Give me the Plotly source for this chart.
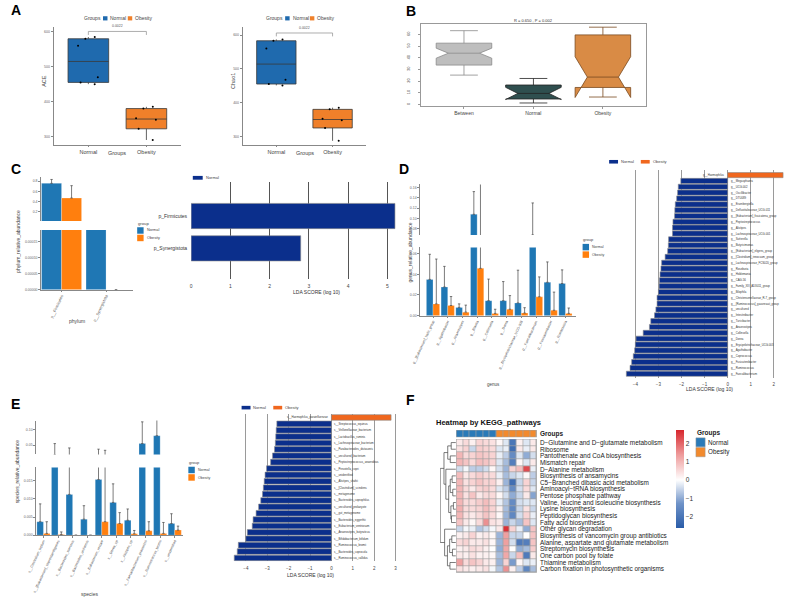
import plotly.graph_objects as go

W, H = 787, 602
FONT = "Liberation Sans, Arial, sans-serif"
BLUE = "#1F77B4"
ORANGE = "#FF7F0E"
BOXBLUE = "#1F6AAE"
BOXORANGE = "#F0802A"
NAVY = "#0B2F8C"
LDAORANGE = "#F0671E"

# ---------------- data ----------------
groups = ["Normal", "Obesity"]
ace_normal = [585, 580, 560, 470, 455, 450]
ace_obesity = [385, 380, 352, 348, 322, 290]
chao1_normal = [587, 583, 560, 468, 455, 451]
chao1_obesity = [385, 380, 352, 348, 325, 287]
alpha_p = "0.0022"

anosim_groups = ["Between", "Normal", "Obesity"]
anosim_lower = [25.1, 1.2, 6.3]
anosim_q1 = [33.7, 4.6, 14.5]
anosim_median = [43.9, 9.4, 23.4]
anosim_q3 = [52.5, 16.6, 59.6]
anosim_upper = [63.2, 22.2, 66.2]
anosim_notch = [4.3, 5.2, 17.5]
anosim_title = "R = 0.650 , P = 0.002"

phyla = ["p__Firmicutes", "p__Synergistota"]
phylum_normal = [0.755, 0.0004]
phylum_obesity = [0.47, 0.0]
phylum_normal_sd = [0.075, 0.0]
phylum_obesity_sd = [0.24, 0.0]

lda_phylum = ["p_Synergistota", "p_Firmicutes"]
lda_phylum_score = [2.79, 5.19]

genera = ["g__[Eubacterium]_hallii_group", "g__Agathobacter", "g__Anaerostipes", "g__Blautia",
          "g__Collinsella", "g__Dorea", "g__Erysipelotrichaceae_UCG-003", "g__Faecalibacterium",
          "g__Fusicatenibacter", "g__Romboutsia"]
genus_normal = [0.0351, 0.0277, 0.008, 0.108, 0.0145, 0.0145, 0.0123, 0.068, 0.0323, 0.0311]
genus_normal_sd = [0.0243, 0.02, 0.0034, 0.044, 0.0209, 0.0185, 0.0317, 0.062, 0.0197, 0.0132]
genus_obesity = [0.0114, 0.0098, 0.0034, 0.0458, 0.0022, 0.0062, 0.0025, 0.0182, 0.0052, 0.0022]
genus_obesity_sd = [0.0434, 0.0087, 0.0068, 0.125, 0.004, 0.0132, 0.0052, 0.0193, 0.0176, 0.0052]

lda_genus = ["g__Haemophilus", "g__Megasphaera", "g__UCG-002", "g__Oscillibacter", "g__DTU089",
             "g__Eisenbergiella", "g__Defluviitaleaceae_UCG-011", "g__[Eubacterium]_fissicatena_group",
             "g__Peptostreptococcus", "g__Alistipes", "g__Lachnospiraceae_UCG-001", "g__Sutterella",
             "g__Butyricimonas", "g__[Eubacterium]_eligens_group", "g__[Clostridium]_innocuum_group",
             "g__Lachnospiraceae_FCS020_group", "g__Roseburia", "g__Holdemania", "g__CAG-56",
             "g__Family_XIII_AD3011_group", "g__Bilophila", "g__Christensenellaceae_R-7_group",
             "g__[Ruminococcus]_gauvreauii_group", "g__uncultured", "g__Intestinibacter",
             "g__Turicibacter", "g__Anaerostipes", "g__Collinsella", "g__Dorea",
             "g__Erysipelotrichaceae_UCG-003", "g__Agathobacter", "g__Coprococcus",
             "g__Fusicatenibacter", "g__Ruminococcus", "g__Faecalibacterium"]
lda_genus_score = [2.4, -2.03, -2.14, -2.17, -2.21, -2.27, -2.29, -2.3, -2.37, -2.39, -2.39,
                   -2.56, -2.57, -2.6, -2.71, -2.86, -2.89, -2.93, -2.96, -2.97, -3.0, -3.06,
                   -3.06, -3.11, -3.17, -3.33, -3.39, -3.66, -3.97, -4.0, -4.03, -4.09, -4.16,
                   -4.23, -4.39]

species = ["s__Clostridium_leptum", "s__[Eubacterium]_coprostanoligenes", "s__Bacteroides_stercoris",
           "s__Bacteroides_uniformis", "s__Eubacterium_rectale", "s__Dorea_sp", "s__Alistipes_sp",
           "s__Faecalibacterium_prausnitzii", "s__Ruminococcus_bromii", "s__unidentified"]
species_normal = [0.0037, 0.019, 0.0112, 0.0044, 0.0153, 0.009, 0.0041, 0.055, 0.080, 0.0032]
species_normal_sd = [0.0049, 0.036, 0.03, 0.0037, 0.022, 0.0051, 0.0031, 0.069, 0.07, 0.0027]
species_obesity = [0.0005, 0.0002, 0.0, 0.0, 0.0037, 0.0032, 0.0004, 0.0012, 0.0005, 0.0014]
species_obesity_sd = [0.0032, 0.0007, 0.0, 0.0, 0.03, 0.003, 0.0009, 0.0025, 0.003, 0.0011]

lda_species = ["s__Haemophilus_parainfluenzae", "s__Streptococcus_equinus", "s__Veillonellaceae_bacterium",
               "s__Lactobacillus_ruminis", "s__Lachnospiraceae_bacterium", "s__Parabacteroides_distasonis",
               "s__uncultured_bacterium", "s__Peptostreptococcus_anaerobius", "s__Prevotella_copri",
               "s__unidentified", "s__Alistipes_shahii", "s__[Clostridium]_scindens", "s__metagenome",
               "s__Bacteroides_coprophilus", "s__uncultured_prokaryote", "s__gut_metagenome",
               "s__Bacteroides_eggerthii", "s__Eubacterium_ventriosum", "s__Anaerostipes_butyraticus",
               "s__Bifidobacterium_bifidum", "s__Ruminococcus_bromii", "s__Bacteroides_coprocola",
               "s__Ruminococcus_callidus"]
lda_species_score = [2.79, -2.55, -2.58, -2.6, -2.62, -2.66, -2.75, -2.84, -3.03, -3.1, -3.14,
                     -3.18, -3.22, -3.3, -3.4, -3.52, -3.66, -3.7, -3.93, -4.0, -4.35, -4.4, -4.54]

kegg_pathways = ["D−Glutamine and D−glutamate metabolism", "Ribosome", "Pantothenate and CoA biosynthesis",
                 "Mismatch repair", "D−Alanine metabolism", "Biosynthesis of ansamycins",
                 "C5−Branched dibasic acid metabolism", "Aminoacyl−tRNA biosynthesis",
                 "Pentose phosphate pathway", "Valine, leucine and isoleucine biosynthesis",
                 "Lysine biosynthesis", "Peptidoglycan biosynthesis", "Fatty acid biosynthesis",
                 "Other glycan degradation", "Biosynthesis of vancomycin group antibiotics",
                 "Alanine, aspartate and glutamate metabolism", "Streptomycin biosynthesis",
                 "One carbon pool by folate", "Thiamine metabolism",
                 "Carbon fixation in photosynthetic organisms"]
sample_groups = ["Normal"] * 6 + ["Obesity"] * 6
kegg_z = [
    [0.3, 0.5, 0.2, 0.6, 0.5, 0.4, 0.1, -0.3, -2.0, 0.2, -0.3, 0.3],
    [0.4, 0.6, -0.5, 0.7, 0.6, 0.5, -0.3, -0.2, -2.2, 0.3, -0.2, 0.3],
    [1.0, 0.5, 0.6, 0.8, 0.7, 0.6, -0.2, -0.6, -1.5, -0.3, -1.0, -0.4],
    [1.0, 0.8, 0.5, 0.9, 0.8, 0.6, -0.3, -0.8, -1.8, 0.1, -0.3, 0.3],
    [-0.4, -0.1, -0.6, -0.6, -0.4, 0.1, -0.4, -0.9, 0.6, 0.9, 2.3, -0.2],
    [0.9, 0.3, 0.5, 0.7, 0.5, 0.5, -0.2, -0.8, -0.5, -0.3, 0.1, -0.6],
    [1.0, 0.4, 0.6, 0.8, 0.6, 0.6, 0.2, -0.9, -2.2, -0.5, 0.6, -0.5],
    [1.0, 0.5, 0.3, 0.6, 0.7, 0.5, -0.3, -0.6, -1.5, -0.4, 0.5, -0.3],
    [1.0, 0.4, 0.8, 0.3, 0.5, 0.5, 0.1, -0.4, -1.0, -0.5, 0.3, -1.1],
    [1.0, 0.5, 0.5, 0.7, 0.9, 0.6, -0.2, -0.7, -1.5, -0.4, -0.3, -0.3],
    [1.1, 0.5, 0.5, 0.6, 0.9, 0.6, 0.2, -0.8, -1.6, -0.5, 0.4, -0.5],
    [1.0, 0.4, 0.3, 0.5, 0.8, 0.5, 0.1, -0.9, -1.6, -0.4, 0.6, -0.2],
    [0.8, 0.3, 0.1, 0.5, 1.5, 0.4, 0.3, -0.9, -0.5, -0.8, 0.8, -0.3],
    [-0.5, -0.1, -0.2, -0.7, -0.4, -0.1, 0.3, 2.6, 0.6, -0.2, -1.0, 0.8],
    [0.2, 0.3, 0.6, 0.2, 0.3, 0.1, -0.9, 1.3, -0.5, -0.5, 0.0, 0.8],
    [0.5, 0.6, 0.3, 0.3, 0.4, 0.1, -0.9, 1.3, -0.4, -1.9, -1.8, 0.8],
    [0.2, 0.3, 0.5, 0.4, 0.2, 0.0, -1.0, 1.2, 0.0, -1.0, -0.8, 0.7],
    [0.3, 0.2, 0.4, 0.2, 0.2, 0.1, -0.8, 1.2, -0.5, 0.9, -1.9, 0.3],
    [1.3, 0.5, 0.8, 0.6, 0.3, 0.2, -0.9, 0.6, -1.2, 0.1, -0.3, -0.2],
    [0.4, 0.3, 0.2, 0.3, 0.4, -0.1, -0.7, 1.5, 0.2, -0.6, -1.6, -0.8],
]
# row dendrogram: (left, right, height); leaves 0..19, merged clusters numbered from 20
row_merges = [
    (0, 1, 1.5), (2, 3, 1.8), (20, 21, 2.6), (5, 6, 1.2), (7, 8, 1.0), (23, 24, 1.8),
    (9, 10, 0.8), (11, 12, 1.4), (26, 27, 1.6), (25, 28, 2.3), (4, 29, 3.2), (22, 30, 3.8),
    (14, 15, 1.3), (16, 17, 1.1), (32, 33, 2.0), (18, 19, 1.9), (34, 35, 2.7), (13, 36, 3.6),
    (31, 37, 5.0),
]

# ---------------- helpers ----------------
fig = go.Figure()
_n = [0]


def ax(x0, x1, y0, y1, xr, yr, xkw=None, ykw=None):
    _n[0] += 1
    n = _n[0]
    s = "" if n == 1 else str(n)
    base = dict(showgrid=False, zeroline=False, showline=False, ticks="",
                showticklabels=False, fixedrange=True)
    xa = dict(base, domain=[x0 / W, x1 / W], range=xr, anchor="y" + s)
    ya = dict(base, domain=[1 - y1 / H, 1 - y0 / H], range=yr, anchor="x" + s)
    if xkw:
        xa.update(xkw)
    if ykw:
        ya.update(ykw)
    fig.update_layout(**{"xaxis" + s: xa, "yaxis" + s: ya})
    return "x" + s, "y" + s


def tf(size, color="#444"):
    return dict(size=size, color=color, family=FONT)


def txt(x, y, s, size=5, color="#333", xa="center", ya="middle", bold=False, angle=0,
        xref="paper", yref="paper"):
    if xref == "paper":
        x = x / W
    if yref == "paper":
        y = 1 - y / H
    fig.add_annotation(x=x, y=y, xref=xref, yref=yref, text=f"<b>{s}</b>" if bold else s,
                       showarrow=False, font=tf(size, color), xanchor=xa, yanchor=ya,
                       textangle=angle, borderpad=0)


def rect(x0, y0, x1, y1, fill, line="rgba(0,0,0,0)", lw=0, layer="above"):
    fig.add_shape(type="rect", xref="paper", yref="paper", x0=x0 / W, x1=x1 / W,
                  y0=1 - y0 / H, y1=1 - y1 / H, fillcolor=fill,
                  line=dict(color=line, width=lw), layer=layer)


LINE = dict(showline=True, linecolor="#888", linewidth=0.8)

# ---------------- panel labels ----------------
for lab, x, y in [("A", 8, 10), ("B", 407, 11), ("C", 8, 170), ("D", 400, 170),
                  ("E", 8, 405), ("F", 407, 401)]:
    txt(x, y, lab, size=14, color="black", bold=True)

# ---------------- A: alpha diversity ----------------


def alpha_panel(x0, x1, y0, y1, yr, normal, obesity, ytitle, ytx, lx, ybr, xt):
    xa, ya = ax(x0, x1, y0, y1, [-0.6, 1.6], yr,
                xkw=dict(LINE, tickvals=[0, 1], ticktext=groups, showticklabels=True,
                         tickfont=tf(5.5), ticks="outside", ticklen=2, tickcolor="#888"),
                ykw=dict(LINE, tickvals=[300, 400, 500, 600], showticklabels=True,
                         tickfont=tf(3.5, "#666"), ticks="outside", ticklen=2, tickcolor="#888"))
    for i, (vals, col) in enumerate([(normal, BOXBLUE), (obesity, BOXORANGE)]):
        fig.add_trace(go.Box(x=[i] * len(vals), y=vals, xaxis=xa, yaxis=ya, width=0.7,
                             fillcolor=col, line=dict(color="#3a3a3a", width=0.8), whiskerwidth=0,
                             boxpoints="all", jitter=0.6, pointpos=0,
                             marker=dict(color="black", size=2), showlegend=False,
                             hoverinfo="skip"))
    fig.add_trace(go.Scatter(x=[0, 0, 1, 1], y=[ybr - 10, ybr, ybr, ybr - 10], mode="lines",
                             line=dict(color="#999", width=0.8), xaxis=xa, yaxis=ya,
                             showlegend=False, hoverinfo="skip"))
    fig.add_annotation(x=0.5, y=ybr, xref=xa, yref=ya, text=alpha_p, showarrow=False,
                       font=tf(3.5, "#555"), yanchor="bottom", yshift=1)
    txt(ytx, (y0 + y1) / 2 - 5, ytitle, size=5.5, color="#444", angle=-90)
    txt(xt, 153.5, "Groups", size=5.5, color="#444")
    txt(lx, 18.3, "Groups", size=5, color="#444", xa="left")
    rect(lx + 20, 16.3, lx + 24.5, 20.5, BOXBLUE)
    txt(lx + 26.5, 18.3, "Normal", size=5, color="#444", xa="left")
    rect(lx + 45, 16.3, lx + 49.5, 20.5, BOXORANGE)
    txt(lx + 51.5, 18.3, "Obesity", size=5, color="#444", xa="left")


alpha_panel(46, 175, 27, 145, [277, 614], ace_normal, ace_obesity, "ACE", 36.5, 76, 601, 110)
alpha_panel(237, 362, 27, 145, [276, 624], chao1_normal, chao1_obesity, "Chao1", 227.5, 260, 606, 300)

# ---------------- B: ANOSIM ----------------
xa, ya = ax(417, 645, 24, 106, [0.378, 3.627], [-1.1, 69],
            xkw=dict(showline=True, mirror=True, linecolor="#999", linewidth=0.8,
                     tickvals=[1, 2, 3], ticktext=anosim_groups, showticklabels=True,
                     tickfont=tf(5), ticks="outside", ticklen=2, tickcolor="#999"),
            ykw=dict(showline=True, mirror=True, linecolor="#999", linewidth=0.8,
                     tickvals=[0, 10, 20, 30, 40, 50, 60], showticklabels=True, tickangle=-90,
                     tickfont=tf(4), ticks="outside", ticklen=2, tickcolor="#999",
                     ticklabelstandoff=6))
b_fill = ["#BEBEBE", "#2F4F4F", "#D98B45"]
b_line = ["#8a8a8a", "#222", "#7a4a20"]
for i in range(3):
    fig.add_trace(go.Box(x=[i + 1], q1=[anosim_q1[i]], median=[anosim_median[i]], q3=[anosim_q3[i]],
                         lowerfence=[anosim_lower[i]], upperfence=[anosim_upper[i]],
                         notchspan=[anosim_notch[i]], notched=True, notchwidth=0.22, width=0.8,
                         fillcolor=b_fill[i], line=dict(color=b_line[i], width=0.8),
                         whiskerwidth=0.5, xaxis=xa, yaxis=ya, showlegend=False, hoverinfo="skip"))
txt(531, 21, anosim_title, size=4, color="#333")

# ---------------- broken-axis bar helper ----------------


def broken_bars(x0, x1, top_y, bot_y, xr, top_r, bot_r, top_ticks, top_fmt, bot_ticks, bot_text,
                cats, normal, normal_sd, obesity, obesity_sd, catsize):
    ta, tya = ax(x0, x1, top_y[0], top_y[1], xr, top_r,
                 ykw=dict(LINE, tickvals=top_ticks, tickformat=top_fmt, showticklabels=True,
                          tickfont=tf(3.5, "#666"), ticks="outside", ticklen=1.5, tickcolor="#888"))
    ba, bya = ax(x0, x1, bot_y[0], bot_y[1], xr, bot_r,
                 xkw=dict(LINE, tickvals=list(range(len(cats))), ticktext=cats, showticklabels=True,
                          tickangle=-65, tickfont=tf(catsize, "#555"), ticks="outside", ticklen=1.5,
                          tickcolor="#888"),
                 ykw=dict(LINE, tickvals=bot_ticks, ticktext=bot_text, showticklabels=True,
                          tickfont=tf(3.5, "#666"), ticks="outside", ticklen=1.5, tickcolor="#888"))
    xs = list(range(len(cats)))
    for vals, sds, col, off in [(normal, normal_sd, BLUE, -0.45), (obesity, obesity_sd, ORANGE, 0.0)]:
        for xa_, ya_ in [(ta, tya), (ba, bya)]:
            fig.add_trace(go.Bar(x=xs, y=vals, width=0.45, offset=off,
                                 marker=dict(color=col, line=dict(color="rgba(255,255,255,0.6)", width=0.4)),
                                 error_y=dict(type="data", array=sds, arrayminus=[0] * len(sds),
                                              symmetric=False, color="#444", thickness=0.7, width=1.2),
                                 xaxis=xa_, yaxis=ya_, showlegend=False, hoverinfo="skip"))


def group_legend(x, y, size=4.2):
    txt(x, y, "group", size=size, color="#444", xa="left")
    rect(x + 0.5, y + 4, x + 7, y + 10.5, BLUE)
    txt(x + 9, y + 7.2, "Normal", size=size - 0.4, color="#444", xa="left")
    rect(x + 0.5, y + 11.5, x + 7, y + 18, ORANGE)
    txt(x + 9, y + 14.8, "Obesity", size=size - 0.4, color="#444", xa="left")


# ---------------- C: phylum ----------------
broken_bars(33, 126, (178, 221.7), (230.7, 290.7), [-0.47, 1.6], [0.026, 0.87], [0, 0.0001875],
            [0.2, 0.4, 0.6, 0.8], ".1f", [0, 5e-5, 1e-4, 1.5e-4],
            ["0.00000", "0.00005", "0.00010", "0.00015"],
            phyla, phylum_normal, phylum_normal_sd, phylum_obesity, phylum_obesity_sd, 4)
txt(10, 241.7, "phylum_relative_abundance", size=5, color="#444", angle=-90)
txt(70, 321.7, "phylum", size=5, color="#444")
group_legend(130, 224)

xa, ya = ax(185, 393.3, 183, 280, [0, 5.25], [-0.95, 2.04],
            xkw=dict(showgrid=True, gridcolor="#555", gridwidth=0.8, tickvals=[0, 1, 2, 3, 4, 5],
                     showticklabels=True, tickfont=tf(5), ticklabelstandoff=3),
            ykw=dict(tickvals=[0, 1], ticktext=lda_phylum, showticklabels=True, tickfont=tf(5, "#333"),
                     ticklabelstandoff=3))
fig.add_trace(go.Bar(x=lda_phylum_score, y=[0, 1], orientation="h", width=0.78,
                     marker=dict(color=NAVY, line=dict(color="#888", width=0.6)),
                     xaxis=xa, yaxis=ya, showlegend=False, hoverinfo="skip"))
rect(186.7, 176.5, 196.7, 180.3, NAVY)
txt(199, 178.4, "Normal", size=4, color="#444", xa="left")
txt(312, 293, "LDA SCORE (log 10)", size=5, color="#333")

# ---------------- D: genus ----------------
broken_bars(416, 574, (185, 235.7), (248.3, 316.7), [-0.9, 9.73], [0.068, 0.166], [0, 0.066],
            [0.08, 0.10, 0.12, 0.14, 0.16], ".2f", [0, 0.02, 0.04, 0.06],
            ["0.00", "0.02", "0.04", "0.06"],
            genera, genus_normal, genus_normal_sd, genus_obesity, genus_obesity_sd, 3.5)
txt(406.5, 253, "genus_relative_abundance", size=5, color="#444", angle=-90)
txt(490, 386, "genus", size=4.5, color="#444")
group_legend(580, 240.7, 4)


def lda_panel(x0, x1, y0, y1, xr, yr, names, scores, ticks, title_xy, leg_xy):
    xa, ya = ax(x0, x1, y0, y1, xr, yr,
                xkw=dict(showgrid=True, gridcolor="#9a9a9a", gridwidth=0.7, tickvals=ticks,
                         showticklabels=True, tickfont=tf(4.5), ticklabelstandoff=3))
    cols = [LDAORANGE if s > 0 else NAVY for s in scores]
    fig.add_trace(go.Bar(x=scores, y=list(range(len(scores))), orientation="h", width=0.88,
                         marker=dict(color=cols, line=dict(color="#8c8c8c", width=0.6)),
                         xaxis=xa, yaxis=ya, showlegend=False, hoverinfo="skip"))
    for i, (nm, s) in enumerate(zip(names, scores)):
        fig.add_annotation(x=0, y=i, xref=xa, yref=ya, text=nm, showarrow=False,
                           font=tf(2.8, "#333"), xanchor="left" if s < 0 else "right",
                           xshift=2 if s < 0 else -2, borderpad=0)
    txt(title_xy[0], title_xy[1], "LDA SCORE (log 10)", size=5, color="#333")
    lx, ly = leg_xy
    rect(lx, ly - 1.8, lx + 9, ly + 1.8, NAVY)
    txt(lx + 11, ly, "Normal", size=4, color="#444", xa="left")
    rect(lx + 32, ly - 1.8, lx + 41, ly + 1.8, LDAORANGE)
    txt(lx + 43, ly, "Obesity", size=4, color="#444", xa="left")


lda_panel(617, 787, 170.7, 379, [-4.72, 2.57], [34.68, -0.85], lda_genus, lda_genus_score,
          list(range(-4, 3)), (709, 390.7), (607.3, 162.3))

# ---------------- E: species ----------------
broken_bars(28, 176.7, (422, 456), (469, 537), [-0.53, 9.56], [0.0204, 0.128], [0, 0.0186],
            [0.05, 0.10], ".2f", [0, 0.005, 0.010, 0.015],
            ["0.000", "0.005", "0.010", "0.015"],
            species, species_normal, species_normal_sd, species_obesity, species_obesity_sd, 3.5)
txt(10, 473, "species_relative_abundance", size=5, color="#444", angle=-90)
txt(82, 596, "species", size=5, color="#444")
group_legend(181.7, 464.3, 4)

lda_panel(218, 400, 415, 563, [-5.03, 3.39], [22.5, -0.6], lda_species, lda_species_score,
          list(range(-4, 4)), (306, 576.7), (236, 409))

# ---------------- F: KEGG heatmap ----------------
HX0, HX1, HY0, HY1 = 453, 534, 440.7, 574.4
rect(HX0 - 0.3, HY0 - 0.3, HX1 + 0.3, HY1 + 0.3, "#a0a0a0", layer="below")
xa, ya = ax(HX0, HX1, HY0, HY1, [-0.5, 11.5], [19.5, -0.5])
fig.add_trace(go.Heatmap(z=kegg_z, x=list(range(12)), y=list(range(len(kegg_pathways))),
                         xaxis=xa, yaxis=ya, zmin=-2.64, zmax=2.73, xgap=0.7, ygap=0.7,
                         colorscale=[[0, "#2A5CA8"], [0.25, "#6F93C8"], [0.49, "#FFFFFF"],
                                     [0.75, "#EE9A9A"], [1, "#D7262D"]],
                         colorbar=dict(x=675 / W, xanchor="left", y=1 - 431.7 / H, yanchor="top",
                                       len=(530 - 431.7) / H, lenmode="fraction", thickness=7.7,
                                       thicknessmode="pixels", xpad=0, ypad=0, outlinewidth=0,
                                       tickvals=[-2, -1, 0, 1, 2], ticktext=["−2", "−1", "0", "1", "2"],
                                       ticks="", tickfont=tf(6.5, "#333")),
                         hoverinfo="skip"))
for i, nm in enumerate(kegg_pathways):
    fig.add_annotation(x=HX1 / W, y=i, xref="paper", yref=ya, text=nm, showarrow=False,
                       font=tf(6.4, "#222"), xanchor="left", xshift=2.5, borderpad=0)

# column annotation
rect(HX0 - 0.3, 431.7 - 0.3, HX1 + 0.3, 438.3 + 0.3, "#a0a0a0", layer="below")
xa2, ya2 = ax(HX0, HX1, 431.7, 438.3, [-0.5, 11.5], [-0.5, 0.5])
fig.add_trace(go.Heatmap(z=[[0 if g == "Normal" else 1 for g in sample_groups]], x=list(range(12)),
                         y=[0], xaxis=xa2, yaxis=ya2, zmin=0, zmax=1, xgap=0.7, showscale=False,
                         colorscale=[[0, "#2A7AB8"], [0.5, "#2A7AB8"], [0.5, "#F28A2D"], [1, "#F28A2D"]],
                         hoverinfo="skip"))
txt(HX1 + 2.5, 435, "Groups", size=6.5, color="#222", xa="left", bold=True)

# row dendrogram
pos = {i: (0.0, float(i)) for i in range(len(kegg_pathways))}
dx, dy = [], []
for k, (a, b, h) in enumerate(row_merges):
    ha, ya_ = pos[a]
    hb, yb = pos[b]
    dx += [ha, h, h, hb, None]
    dy += [ya_, ya_, yb, yb, None]
    pos[len(kegg_pathways) + k] = (h, (ya_ + yb) / 2)
xa3, ya3 = ax(436.5, HX0 - 0.5, HY0, HY1, [5.05, 0], [19.5, -0.5])
fig.add_trace(go.Scatter(x=dx, y=dy, mode="lines", line=dict(color="#444", width=0.7),
                         xaxis=xa3, yaxis=ya3, showlegend=False, hoverinfo="skip"))

txt(485, 424, "Heatmap by KEGG_pathways", size=7.5, color="#111", bold=True)

# F legend
txt(695, 434, "Groups", size=6.5, color="#222", xa="left", bold=True)
rect(695, 439.3, 704.3, 448.3, "#2A7AB8", line="#999", lw=0.5)
txt(706, 443.8, "Normal", size=6.3, color="#222", xa="left")
rect(695, 449, 704.3, 458.3, "#F28A2D", line="#999", lw=0.5)
txt(706, 453.5, "Obesity", size=6.3, color="#222", xa="left")

fig.update_layout(width=W, height=H, margin=dict(l=0, r=0, t=0, b=0),
                  paper_bgcolor="white", plot_bgcolor="white", showlegend=False,
                  font=dict(family=FONT), barmode="overlay")
fig.write_html("out.html")
